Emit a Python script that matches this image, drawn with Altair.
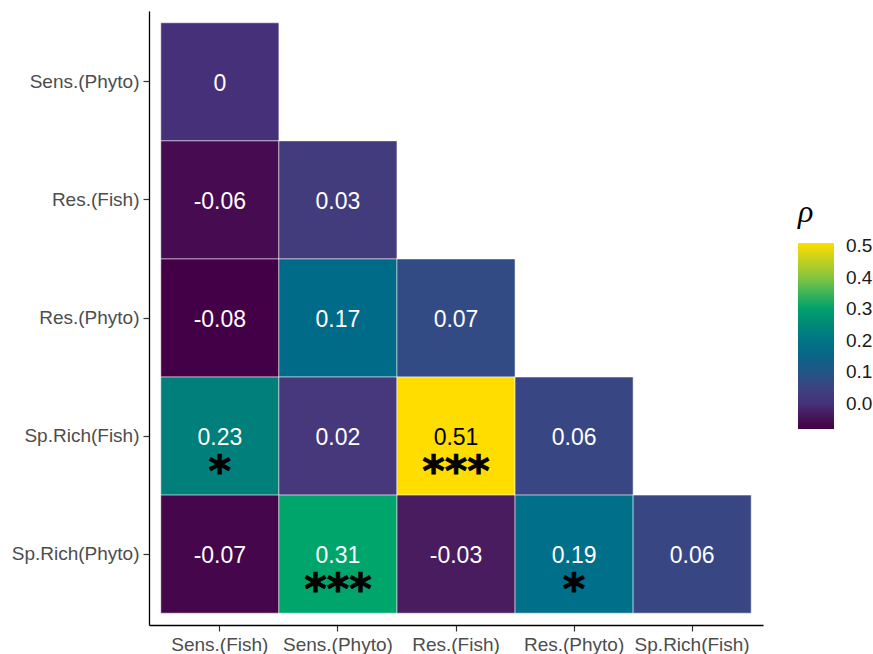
import altair as alt
import pandas as pd

# Variables along each axis
x_vars = ["Sens.(Fish)", "Sens.(Phyto)", "Res.(Fish)", "Res.(Phyto)", "Sp.Rich(Fish)"]
y_vars = ["Sens.(Phyto)", "Res.(Fish)", "Res.(Phyto)", "Sp.Rich(Fish)", "Sp.Rich(Phyto)"]

# Lower-triangle Spearman correlations, one list per row (y variable)
rho_rows = [
    [0.00],
    [-0.06, 0.03],
    [-0.08, 0.17, 0.07],
    [0.23, 0.02, 0.51, 0.06],
    [-0.07, 0.31, -0.03, 0.19, 0.06],
]
# Significance markers for the same cells
sig_rows = [
    [""],
    ["", ""],
    ["", "", ""],
    ["*", "", "***", ""],
    ["", "***", "", "*", ""],
]

# Viridis-like palette stops (value -> colour)
palette_stops = [-0.08, -0.03, 0.0, 0.02, 0.065, 0.17, 0.19, 0.23, 0.31, 0.40, 0.51]
palette_colors = ["#440046", "#481C5E", "#46307A", "#46387A", "#364985", "#006B88",
                  "#00708A", "#007F7B", "#00A56B", "#85C440", "#FFDD00"]

records = []
for yi, (vals, sigs) in enumerate(zip(rho_rows, sig_rows)):
    for xi, (v, s) in enumerate(zip(vals, sigs)):
        records.append({
            "x": x_vars[xi],
            "y": y_vars[yi],
            "rho": v,
            "label": f"{v:g}",
            "sig": s,
        })
df = pd.DataFrame(records)

x_enc = alt.X("x:N", sort=x_vars, title=None,
              scale=alt.Scale(paddingInner=0, paddingOuter=0.1),
              axis=alt.Axis(labelAngle=0))
y_enc = alt.Y("y:N", sort=y_vars, title=None,
              scale=alt.Scale(paddingInner=0, paddingOuter=0.1))

base = alt.Chart(df).encode(x=x_enc, y=y_enc)

tiles = base.mark_rect(stroke="white", strokeWidth=0.6, strokeOpacity=0.85).encode(
    color=alt.Color(
        "rho:Q",
        scale=alt.Scale(domain=palette_stops, range=palette_colors, interpolate="rgb"),
        legend=alt.Legend(
            title="ρ",
            orient="none",
            legendX=649,
            legendY=186,
            direction="vertical",
            gradientLength=186,
            gradientThickness=36,
            gradientStrokeWidth=0,
            values=[0.0, 0.1, 0.2, 0.3, 0.4, 0.5],
            format=".1f",
            labelFontSize=19,
            labelFont="Liberation Sans",
            labelColor="#1A1A1A",
            labelOffset=12,
            labelOverlap=False,
            titleFont="Liberation Serif",
            titleFontStyle="italic",
            titleFontWeight="normal",
            titleFontSize=32,
            titleColor="black",
            titlePadding=14,
        ),
    )
)

values = base.mark_text(
    font="Liberation Sans", fontSize=23, baseline="middle", dy=2
).encode(
    text="label:N",
    color=alt.condition(alt.datum.rho > 0.4, alt.value("black"), alt.value("white")),
)

stars = base.transform_filter(alt.datum.sig != "").mark_text(
    font="DejaVu Sans", fontWeight="bold", fontSize=43,
    baseline="alphabetic", dy=50, color="black",
    stroke="black", strokeWidth=0.8
).encode(text="sig:N")

chart = (
    alt.layer(tiles, values, stars)
    .properties(
        width=614,
        height=614,
        autosize=alt.AutoSizeParams(type="none"),
        padding={"left": 149, "top": 11, "right": 110, "bottom": 29},
    )
    .configure_view(strokeWidth=0)
    .configure_axis(
        grid=False,
        domainColor="black",
        domainWidth=1.3,
        tickColor="#333333",
        tickSize=6,
        tickWidth=1.2,
        labelColor="#4D4D4D",
        labelFont="Liberation Sans",
        labelFontSize=19,
        labelPadding=4,
    )
)

chart.save("out.html", embed_options={"renderer": "svg", "actions": False})
